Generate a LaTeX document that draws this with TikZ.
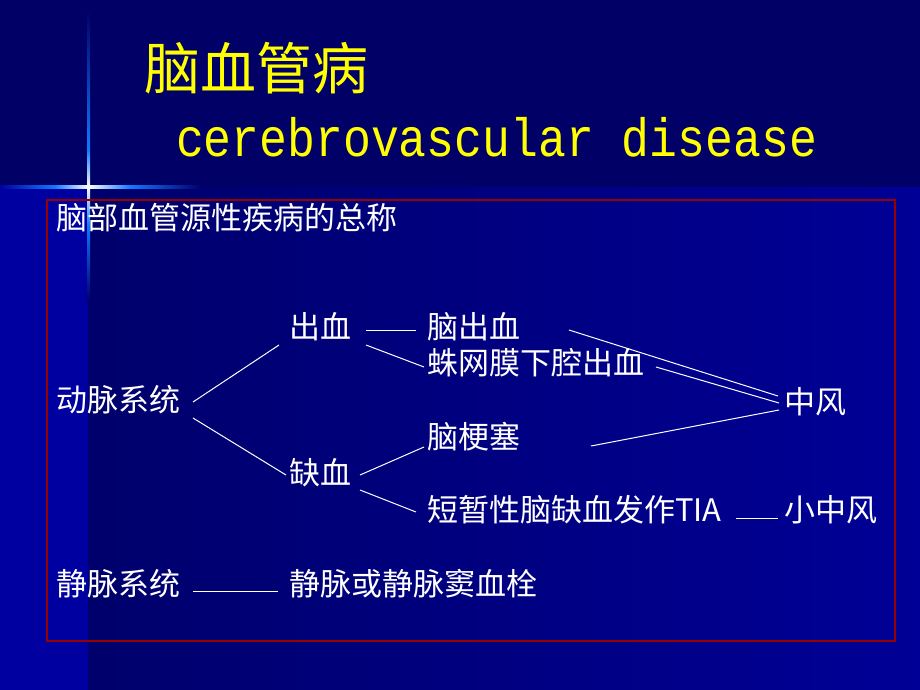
\documentclass[tikz,border=0pt]{standalone}
\usepackage{fontspec}
\setmainfont{Noto Sans CJK SC}
\newfontfamily\monofont[FakeStretch=0.86]{Liberation Mono}
\definecolor{topbg}{RGB}{0,0,102}
\definecolor{midleft}{RGB}{0,0,108}
\definecolor{midright}{RGB}{0,0,150}
\definecolor{stripbg}{RGB}{0,0,160}
\definecolor{flare}{RGB}{20,120,255}
\definecolor{frame}{RGB}{150,0,0}
\definecolor{titleyellow}{RGB}{255,255,0}
\tikzset{
  lbl/.style={text=white, font=\fontsize{31}{31}\selectfont, inner sep=0pt, anchor=west},
  conn/.style={draw=white, line width=1pt},
}
\begin{document}
\begin{tikzpicture}[x=1pt,y=-1pt]
\useasboundingbox (0,0) rectangle (920,690);
% background
\fill[topbg] (0,0) rectangle (920,187);
\shade[left color=midleft, right color=midright] (88,187) rectangle (920,690);
\fill[stripbg] (0,187) rectangle (88,690);
% flare
\shade[top color=topbg, bottom color=flare] (87,10) rectangle (90,150);
\shade[top color=flare, bottom color=white] (87,150) rectangle (90,187);
\shade[top color=white, bottom color=flare] (87,187) rectangle (90,225);
\shade[top color=flare, bottom color=midleft] (87,225) rectangle (90,300);
\shade[left color=stripbg, right color=flare] (0,185.5) rectangle (55,188.5);
\shade[left color=flare, right color=white] (55,185.5) rectangle (88.5,188.5);
\shade[left color=white, right color=flare] (88.5,185.5) rectangle (130,188.5);
\shade[left color=flare, right color=midleft] (130,185.5) rectangle (200,188.5);
% frame
\draw[frame, line width=2pt] (47,200) rectangle (895,641);
% titles
\node[text=titleyellow, font=\fontsize{56}{56}\selectfont, inner sep=0pt, anchor=west] (t1) at (144,68) {脑血管病};
\node[text=titleyellow, font=\monofont\fontsize{54}{54}\selectfont, inner sep=0pt, anchor=base] (t2) at (496.5,156) {cerebrovascular disease};
% labels
\node[lbl] (zc) at (56,218) {脑部血管源性疾病的总称};
\node[lbl] (cx) at (289,327) {出血};
\node[lbl] (nc) at (427,327) {脑出血};
\node[lbl] (zw) at (427,363) {蛛网膜下腔出血};
\node[lbl] (dm) at (56,400) {动脉系统};
\node[lbl] (zf) at (784,402) {中风};
\node[lbl] (ng) at (427,437) {脑梗塞};
\node[lbl] (qx) at (289,473) {缺血};
\node[lbl] (ds) at (427,510) {短暂性脑缺血发作TIA};
\node[lbl] (xz) at (784,510) {小中风};
\node[lbl] (jm) at (56,584) {静脉系统};
\node[lbl] (jx) at (289,584) {静脉或静脉窦血栓};
% connectors
\draw[conn] ([shift={(137,2)}]dm.west) -- ([shift={(-10,18)}]cx.west);
\draw[conn] ([shift={(137,18)}]dm.west) -- ([shift={(-3,2)}]qx.west);
\draw[conn] ([shift={(77,3)}]cx.west) -- ([shift={(-11,3)}]nc.west);
\draw[conn] ([shift={(77,18)}]cx.west) -- ([shift={(-3,4)}]zw.west);
\draw[conn] ([shift={(71,2)}]qx.west) -- ([shift={(-3,10)}]ng.west);
\draw[conn] ([shift={(71,17)}]qx.west) -- ([shift={(-11,2)}]ds.west);
\draw[conn] ([shift={(142,3)}]nc.west) -- ([shift={(-6,-6)}]zf.west);
\draw[conn] ([shift={(229,4)}]zw.west) -- ([shift={(-5,1)}]zf.west);
\draw[conn] ([shift={(164,9)}]ng.west) -- ([shift={(-5,8)}]zf.west);
\draw[conn] ([shift={(309,8)}]ds.west) -- ([shift={(-6,8)}]xz.west);
\draw[conn] ([shift={(137,7)}]jm.west) -- ([shift={(-11,7)}]jx.west);
\end{tikzpicture}
\end{document}
